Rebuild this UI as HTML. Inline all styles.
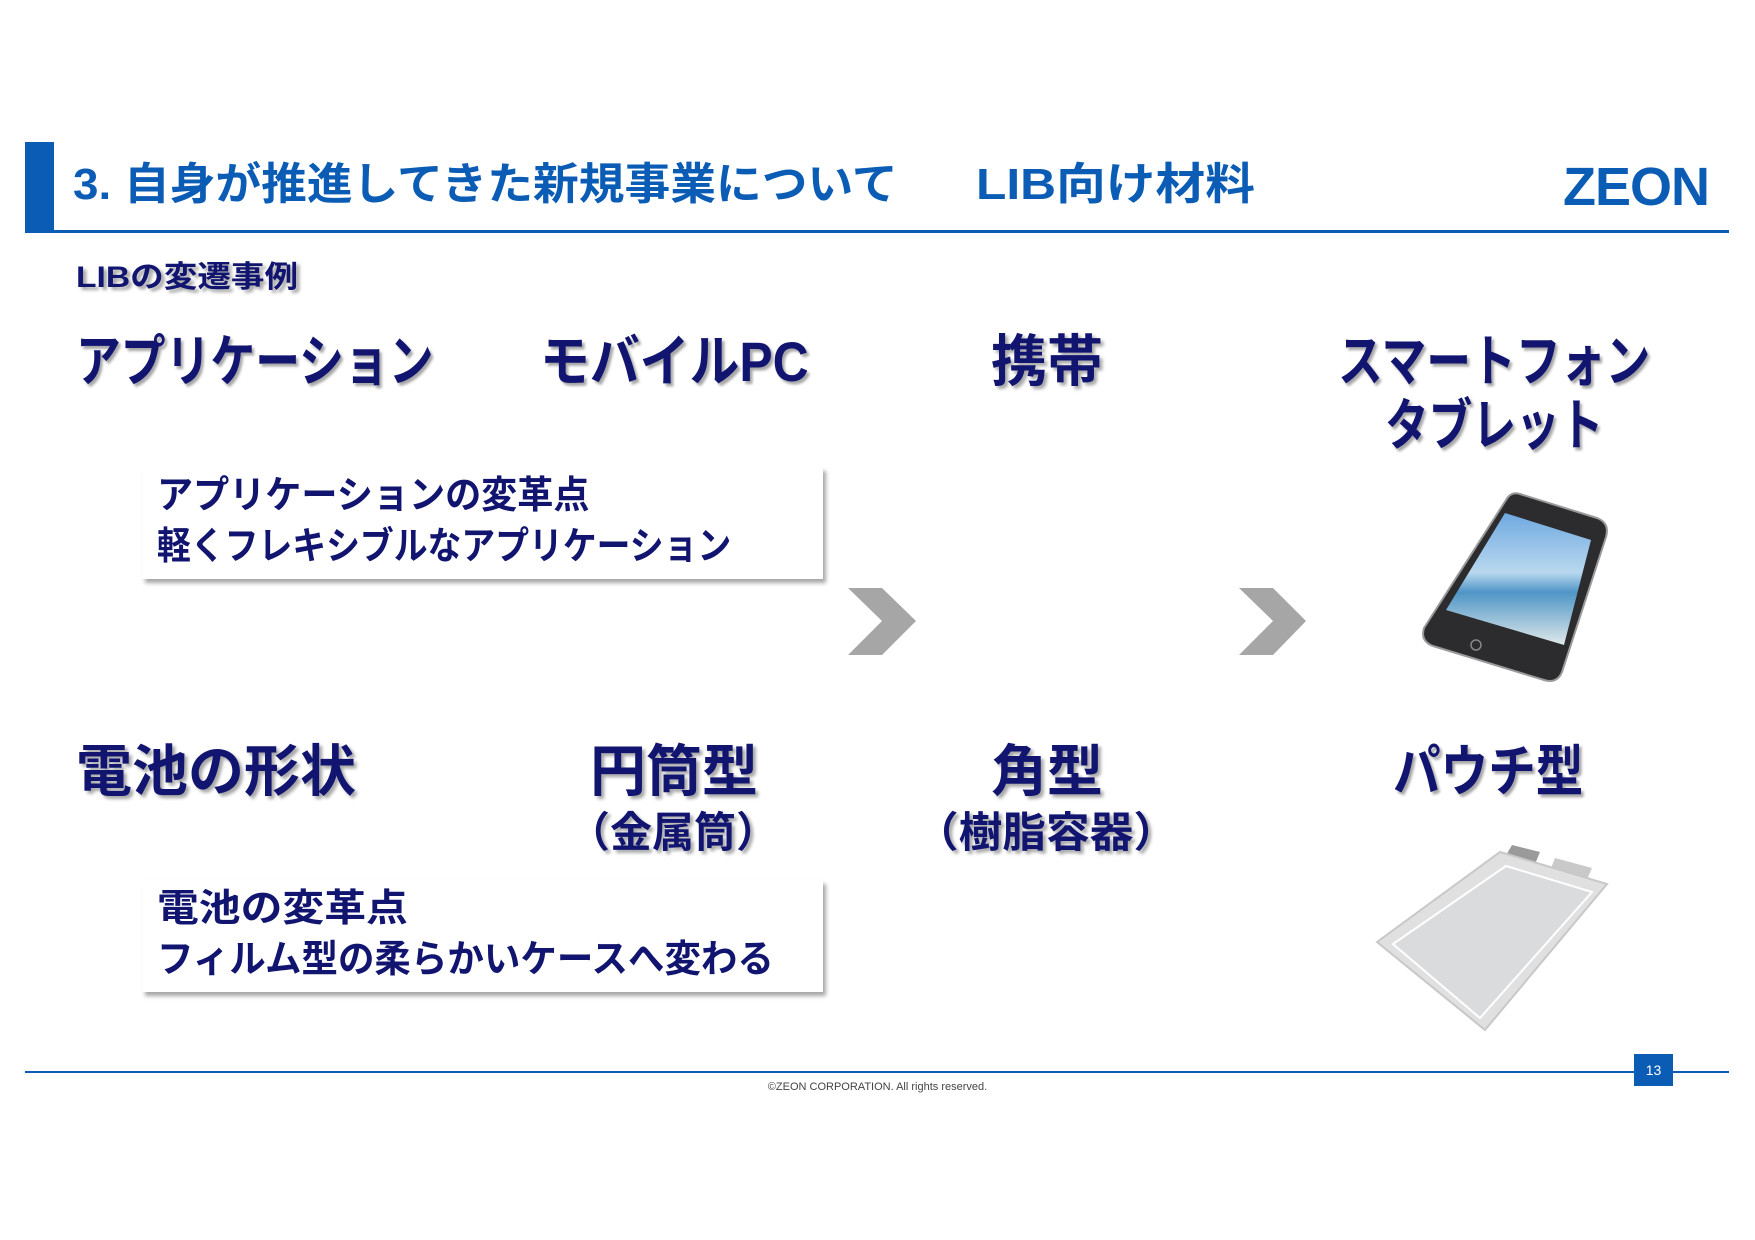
<!DOCTYPE html>
<html><head><meta charset="utf-8"><style>
body{margin:0;width:1755px;height:1240px;background:#fff;position:relative;overflow:hidden;font-family:"Liberation Sans","Noto Sans CJK JP",sans-serif;}
.a{position:absolute;white-space:nowrap;line-height:1;font-weight:bold;}
.n{color:#111570;text-shadow:3px 3px 3px rgba(0,0,0,0.35);transform-origin:left center;}
.box{position:absolute;background:#fff;box-shadow:3px 4px 4px rgba(0,0,0,0.35);}
</style></head><body>
<div style="position:absolute;left:25px;top:142px;width:29px;height:90px;background:#0b5cb5"></div>
<div style="position:absolute;left:25px;top:230px;width:1704px;height:3px;background:#0b5cb5"></div>
<div class="a" style="left:73px;top:163px;font-size:44px;color:#0b5cb5;transform:scaleX(1.04);transform-origin:left">3. 自身が推進してきた新規事業について</div>
<div class="a" style="left:976px;top:163px;font-size:44px;color:#0b5cb5;transform:scaleX(1.13);transform-origin:left">LIB向け材料</div>
<div class="a" style="left:1563px;top:160px;font-size:54px;color:#0b5cb5;letter-spacing:-1px">ZEON</div>

<div class="a n" style="left:76px;top:263px;font-size:30px;transform:scaleX(1.12)">LIBの変遷事例</div>

<div class="a n" style="left:76px;top:334px;font-size:56px;transform:scaleX(0.8)">アプリケーション</div>
<div class="a n" style="left:540px;top:334px;font-size:56px;transform:scaleX(0.89)">モバイルPC</div>
<div class="a n" style="left:991px;top:334px;font-size:56px;transform:scaleX(1.0)">携帯</div>
<div class="a n" style="left:1338px;top:334px;font-size:56px;transform:scaleX(0.8)">スマートフォン</div>
<div class="a n" style="left:1385px;top:398px;font-size:56px;transform:scaleX(0.78)">タブレット</div>

<div class="box" style="left:142px;top:467px;width:681px;height:112px"></div>
<div class="a n" style="left:157px;top:477px;font-size:38px;transform:scaleX(0.95);text-shadow:none">アプリケーションの変革点</div>
<div class="a n" style="left:157px;top:528px;font-size:38px;transform:scaleX(0.89);text-shadow:none">軽くフレキシブルなアプリケーション</div>

<svg style="position:absolute;left:0;top:0" width="1755" height="1240">
<polygon points="848,588 882,588 916,621 882,655 848,655 882,621" fill="#a6a6a6"/>
<polygon points="1239,588 1273,588 1306,621 1273,655 1239,655 1273,621" fill="#a6a6a6"/>
<defs><linearGradient id="sc" x1="0" y1="0" x2="0" y2="1"><stop offset="0" stop-color="#6fa9e0"/><stop offset="0.45" stop-color="#b9d8ef"/><stop offset="0.6" stop-color="#4f95c6"/><stop offset="1" stop-color="#dfe9ea"/></linearGradient></defs>
<path d="M1520,494 L1597,518 Q1610,523 1606,537 L1562,672 Q1557,684 1544,680 L1433,646 Q1420,641 1424,628 L1506,500 Q1511,491 1520,494 Z" fill="#2c2c2e" stroke="#9a9a9a" stroke-width="2"/>
<polygon points="1505,513 1591,540 1564,645 1446,610" fill="url(#sc)"/>
<circle cx="1476" cy="645" r="5" fill="none" stroke="#888" stroke-width="1.5"/>
<polygon points="1512,845 1540,852 1535,864 1505,857" fill="#9a9a9a"/>
<polygon points="1555,858 1592,868 1586,882 1550,871" fill="#c9c9c9"/>
<polygon points="1500,852 1607,884 1485,1030 1377,942" fill="#e0e0e0" stroke="#c8c8c8" stroke-width="2"/>
<polygon points="1506,866 1592,892 1480,1018 1393,944" fill="#dadbdc" stroke="#fff" stroke-width="2"/>
</svg>

<div class="a n" style="left:76px;top:744px;font-size:56px;transform:scaleX(1.0)">電池の形状</div>
<div class="a n" style="left:590px;top:744px;font-size:56px;transform:scaleX(1.0)">円筒型</div>
<div class="a n" style="left:568px;top:812px;font-size:42px;transform:scaleX(1.0)">（金属筒）</div>
<div class="a n" style="left:915px;top:812px;font-size:42px;transform:scaleX(1.04)">（樹脂容器）</div>
<div class="a n" style="left:991px;top:744px;font-size:56px;transform:scaleX(1.0)">角型</div>
<div class="a n" style="left:1393px;top:744px;font-size:56px;transform:scaleX(0.85)">パウチ型</div>

<div class="box" style="left:142px;top:880px;width:681px;height:112px"></div>
<div class="a n" style="left:157px;top:890px;font-size:38px;transform:scaleX(1.1);text-shadow:none">電池の変革点</div>
<div class="a n" style="left:157px;top:941px;font-size:38px;transform:scaleX(0.96);text-shadow:none">フィルム型の柔らかいケースへ変わる</div>

<div style="position:absolute;left:25px;top:1071px;width:1704px;height:2px;background:#0b5cb5"></div>
<div style="position:absolute;left:1634px;top:1054px;width:39px;height:32px;background:#0b5cb5;color:#fff;font-size:14px;line-height:32px;text-align:center">13</div>
<div class="a" style="left:0;width:1755px;text-align:center;top:1082px;font-size:11px;font-weight:normal;color:#444">©ZEON CORPORATION. All rights reserved.</div>
</body></html>
